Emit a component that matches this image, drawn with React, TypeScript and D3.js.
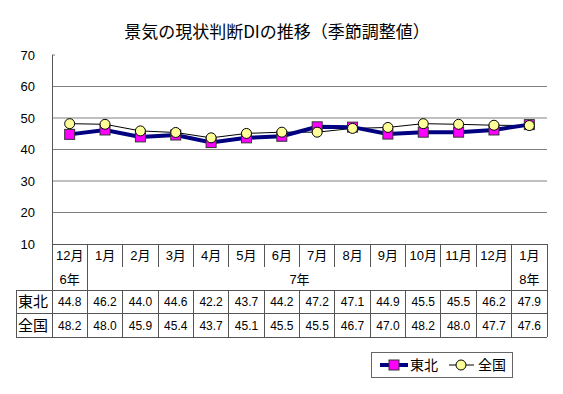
import React, { useEffect, useRef } from 'react';
import * as d3 from 'd3';

const months = ['12月', '1月', '2月', '3月', '4月', '5月', '6月', '7月', '8月', '9月', '10月', '11月', '12月', '1月'];
const years = [
  { label: '6年', from: 0, to: 0 },
  { label: '7年', from: 1, to: 12 },
  { label: '8年', from: 13, to: 13 },
];
const tohoku = [44.8, 46.2, 44.0, 44.6, 42.2, 43.7, 44.2, 47.2, 47.1, 44.9, 45.5, 45.5, 46.2, 47.9];
const zenkoku = [48.2, 48.0, 45.9, 45.4, 43.7, 45.1, 45.5, 45.5, 46.7, 47.0, 48.2, 48.0, 47.7, 47.6];
const yTicks = [10, 20, 30, 40, 50, 60, 70];

const FONT = '"Liberation Sans", Arial, "Noto Sans CJK JP", sans-serif';

export default function App() {
  const svgRef = useRef<SVGSVGElement>(null);

  useEffect(() => {
    if (!svgRef.current) return;
    const svg = d3.select(svgRef.current);
    svg.selectAll('*').remove();

    const left = 52, right = 547, top = 55, bottom = 244;
    const x = d3.scaleBand<number>().domain(d3.range(months.length)).range([left, right]);
    const y = d3.scaleLinear().domain([10, 70]).range([bottom, top]);
    const cx = (i: number) => (x(i) || 0) + x.bandwidth() / 2;

    svg.append('rect').attr('width', 563).attr('height', 394).attr('fill', 'white');

    // title
    svg.append('text')
      .attr('x', 277).attr('y', 38)
      .attr('text-anchor', 'middle')
      .attr('font-size', 17)
      .attr('font-family', '"Noto Sans CJK JP", sans-serif')
      .attr('fill', '#000')
      .text('景気の現状判断DIの推移（季節調整値）');

    // grid
    svg.selectAll('.grid')
      .data(yTicks.filter(t => t > 10 && t < 70))
      .enter().append('line')
      .attr('x1', left).attr('x2', right)
      .attr('y1', d => y(d)).attr('y2', d => y(d))
      .attr('stroke', '#808080').attr('stroke-width', 1);

    svg.append('line').attr('x1', left).attr('x2', left + 3)
      .attr('y1', y(70)).attr('y2', y(70)).attr('stroke', '#808080');

    svg.selectAll('.ytick')
      .data(yTicks)
      .enter().append('text')
      .attr('x', 35).attr('y', d => y(d))
      .attr('dy', '0.35em')
      .attr('text-anchor', 'end')
      .attr('font-size', 13)
      .attr('font-family', FONT)
      .text(d => d);

    // table
    const rowMonth = 244, rowYear = 267, rowA = 290, rowB = 313, rowEnd = 337;
    const tbl = svg.append('g').attr('stroke', '#555').attr('stroke-width', 1).attr('shape-rendering', 'crispEdges');
    tbl.append('line').attr('x1', left).attr('x2', left).attr('y1', top).attr('y2', rowEnd);
    tbl.append('line').attr('x1', left).attr('x2', right).attr('y1', rowMonth).attr('y2', rowMonth);
    tbl.append('line').attr('x1', right).attr('x2', right).attr('y1', rowMonth).attr('y2', rowEnd);
    tbl.append('line').attr('x1', 16).attr('x2', right).attr('y1', rowA).attr('y2', rowA);
    tbl.append('line').attr('x1', 16).attr('x2', right).attr('y1', rowB).attr('y2', rowB);
    tbl.append('line').attr('x1', 16).attr('x2', right).attr('y1', rowEnd).attr('y2', rowEnd);
    tbl.append('line').attr('x1', 16).attr('x2', 16).attr('y1', rowA).attr('y2', rowEnd);
    months.forEach((_, i) => {
      if (i === 0) return;
      const xx = x(i) || 0;
      const full = years.some(yr => yr.from === i);
      tbl.append('line').attr('x1', xx).attr('x2', xx)
        .attr('y1', full ? rowMonth : rowA).attr('y2', rowEnd);
      if (!full) tbl.append('line').attr('x1', xx).attr('x2', xx).attr('y1', rowMonth).attr('y2', rowYear);
    });

    const txt = svg.append('g').attr('font-family', FONT).attr('font-size', 12).attr('fill', '#000').attr('text-anchor', 'middle');
    months.forEach((m, i) => {
      txt.append('text').attr('x', cx(i)).attr('y', (rowMonth + rowYear) / 2).attr('dy', '0.38em').attr('font-size', 13).text(m);
      txt.append('text').attr('x', cx(i)).attr('y', (rowA + rowB) / 2).attr('dy', '0.38em').text(tohoku[i].toFixed(1));
      txt.append('text').attr('x', cx(i)).attr('y', (rowB + rowEnd) / 2).attr('dy', '0.38em').text(zenkoku[i].toFixed(1));
    });
    years.forEach(yr => {
      const x0 = x(yr.from) || 0;
      const x1 = (x(yr.to) || 0) + x.bandwidth();
      txt.append('text').attr('x', (x0 + x1) / 2).attr('y', (rowYear + rowA) / 2 + 1).attr('dy', '0.38em').attr('font-size', 13).text(yr.label);
    });
    txt.append('text').attr('x', 33).attr('y', (rowA + rowB) / 2).attr('dy', '0.38em').attr('font-size', 15).text('東北');
    txt.append('text').attr('x', 33).attr('y', (rowB + rowEnd) / 2).attr('dy', '0.38em').attr('font-size', 15).text('全国');

    // lines
    const line = d3.line<number>().x((_, i) => cx(i)).y(d => y(d));
    svg.append('path').attr('d', line(zenkoku)).attr('fill', 'none').attr('stroke', '#000').attr('stroke-width', 1);
    svg.append('path').attr('d', line(tohoku)).attr('fill', 'none').attr('stroke', '#000080').attr('stroke-width', 4);

    svg.selectAll('.sq')
      .data(tohoku)
      .enter().append('rect')
      .attr('x', (_, i) => cx(i) - 5).attr('y', d => y(d) - 5)
      .attr('width', 10).attr('height', 10)
      .attr('fill', '#ff00ff').attr('stroke', '#333').attr('stroke-width', 1);

    svg.selectAll('.ci')
      .data(zenkoku)
      .enter().append('circle')
      .attr('cx', (_, i) => cx(i)).attr('cy', d => y(d)).attr('r', 5)
      .attr('fill', '#ffff99').attr('stroke', '#000').attr('stroke-width', 1);

    // legend
    const lg = svg.append('g');
    lg.append('rect').attr('x', 371.5).attr('y', 352.5).attr('width', 141).attr('height', 25)
      .attr('fill', 'white').attr('stroke', '#666').attr('stroke-width', 1);
    lg.append('line').attr('x1', 380).attr('x2', 408).attr('y1', 365).attr('y2', 365).attr('stroke', '#000080').attr('stroke-width', 4);
    lg.append('rect').attr('x', 389).attr('y', 360).attr('width', 10).attr('height', 10)
      .attr('fill', '#ff00ff').attr('stroke', '#333');
    lg.append('text').attr('x', 410).attr('y', 365).attr('dy', '0.38em')
      .attr('font-size', 14).attr('font-family', FONT).text('東北');
    lg.append('line').attr('x1', 449).attr('x2', 474).attr('y1', 365).attr('y2', 365).attr('stroke', '#000').attr('stroke-width', 1);
    lg.append('circle').attr('cx', 461).attr('cy', 365).attr('r', 5)
      .attr('fill', '#ffff99').attr('stroke', '#000');
    lg.append('text').attr('x', 478).attr('y', 365).attr('dy', '0.38em')
      .attr('font-size', 14).attr('font-family', FONT).text('全国');
  }, []);

  return (
    <svg ref={svgRef} width={563} height={394}
      style={{ position: 'absolute', left: 0, top: 0, display: 'block' }} />
  );
}
